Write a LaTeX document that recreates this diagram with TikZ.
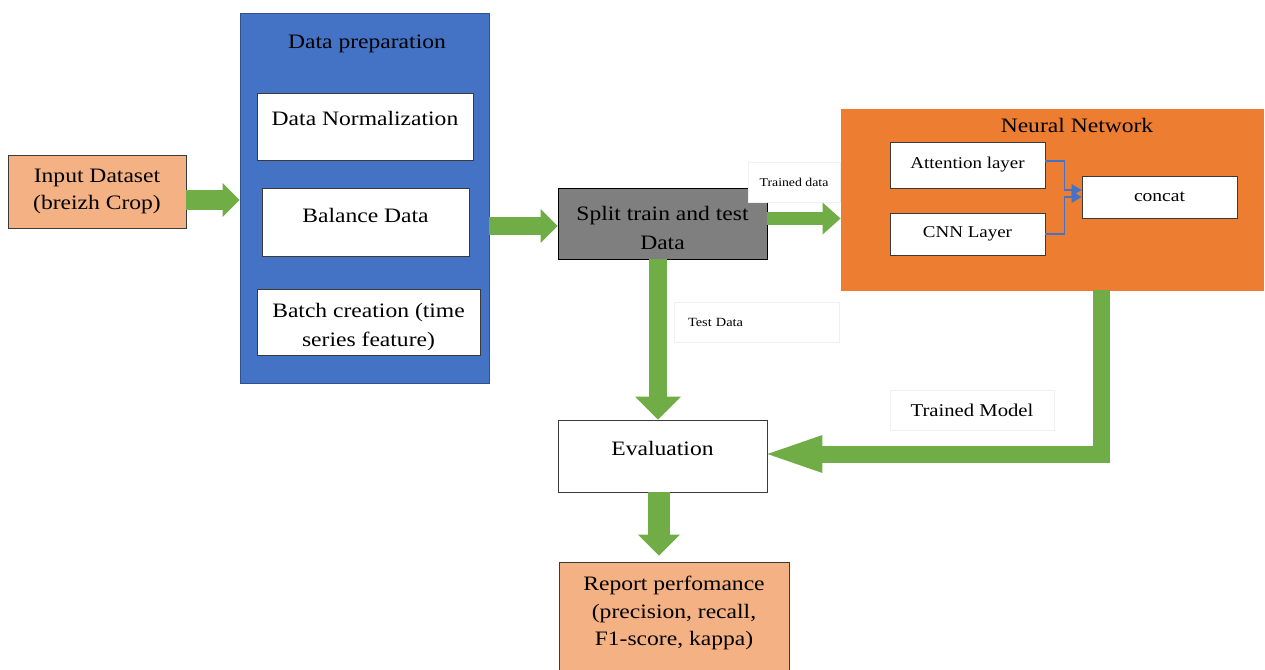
\documentclass[tikz,border=0pt]{standalone}
\usepackage{fontspec}
\setmainfont[FakeStretch=1.15]{Liberation Serif}
\usetikzlibrary{arrows.meta,calc}
\definecolor{inorange}{HTML}{F4B183}
\definecolor{prepblue}{HTML}{4472C4}
\definecolor{prepedge}{HTML}{2F528F}
\definecolor{nnorange}{HTML}{ED7D31}
\definecolor{splitgray}{HTML}{7F7F7F}
\definecolor{agreen}{HTML}{70AD47}
\definecolor{edgegray}{HTML}{3A3A3A}
\begin{document}
\begin{tikzpicture}[x=1pt,y=-1pt,
  box/.style={draw=edgegray, line width=0.9pt, fill=white, inner sep=0pt, align=center},
  big/.style={font=\fontsize{20.5}{27}\selectfont},
  lbl/.style={draw=black!6, fill=white, inner sep=0pt},
  garrow/.style n args={3}{draw=agreen, line width=#1, line join=miter, -{Triangle[width=#2, length=#3, line width=0pt]}},
  bconn/.style={draw=prepblue, line width=1.8pt, -{Triangle[length=10pt,width=12pt,line width=0pt]}}
]
\useasboundingbox (0,0) rectangle (1265,669);

% input
\node[box, fill=inorange, minimum width=178pt, minimum height=73pt, big] (in) at (97,191.5) {Input Dataset\\(breizh Crop)};

% data preparation
\node[box, draw=prepedge, fill=prepblue, minimum width=249pt, minimum height=370pt] (prep) at (364.5,198) {};
\node[big] (preptitle) at (367,44) {Data preparation};
\node[box, minimum width=216pt, minimum height=67pt, label={[big, yshift=8pt]center:{Data Normalization}}] (norm) at (365,126.5) {};
\node[box, minimum width=207pt, minimum height=68pt, label={[big, yshift=7pt]center:{Balance Data}}] (bal) at (365.5,222) {};
\node[box, minimum width=223pt, minimum height=66pt, label={[font=\fontsize{20.5}{29}\selectfont, align=center, yshift=-5.5pt]center:{Batch creation (time\\series feature)}}] (batch) at (368.5,322) {};

% split
\node[box, draw=black, fill=splitgray, minimum width=209pt, minimum height=71pt, label={[font=\fontsize{20.5}{29}\selectfont, align=center, yshift=-4pt]center:{Split train and test\\Data}}] (split) at (662.5,223.5) {};

% neural network
\node[box, draw=nnorange, fill=nnorange, minimum width=422pt, minimum height=181pt] (nn) at (1052,199.5) {};
\node[font=\fontsize{20.5}{25}\selectfont] (nntitle) at (1077,125) {Neural Network};
\node[box, minimum width=155pt, minimum height=46pt, font=\fontsize{16.5}{20}\selectfont] (att) at (967.5,165) {Attention layer};
\node[box, minimum width=155pt, minimum height=42pt, font=\fontsize{16.5}{20}\selectfont] (cnn) at (967.5,234) {CNN Layer};
\node[box, minimum width=155pt, minimum height=42pt, font=\fontsize{17}{20}\selectfont] (concat) at (1159.5,197) {concat};

% evaluation and report
\node[box, minimum width=209pt, minimum height=72pt, label={[big, yshift=8pt]center:{Evaluation}}] (eval) at (662.5,456) {};
\node[box, fill=inorange, minimum width=230pt, minimum height=114pt, label={[font=\fontsize{20.5}{27.5}\selectfont, align=center, yshift=6pt]center:{Report perfomance\\(precision, recall,\\F1-score, kappa)}}] (report) at (674,619) {};

% connector labels
\node[lbl, minimum width=92pt, minimum height=40pt, font=\fontsize{12}{14}\selectfont] (tdata) at (794,182) {Trained data};
\node[lbl, minimum width=165pt, minimum height=40pt, text width=137pt, align=left, font=\fontsize{12.5}{14}\selectfont] (testl) at (756.5,322) {Test Data};
\node[lbl, minimum width=164pt, minimum height=40pt, font=\fontsize{18}{20}\selectfont] (tmodel) at (972,410) {Trained Model};

% green arrows
\draw[garrow={20pt}{34pt}{17pt}] ($(in.east)+(0,8.5)$) -- ($(prep.west)+(0,2)$);
\draw[garrow={18pt}{34pt}{17pt}] ($(prep.east)+(0,28)$) -- ($(split.west)+(0,2.5)$);
\draw[garrow={13pt}{32pt}{18pt}] ($(split.east)+(0,-5)$) -- ($(nn.west)+(0,19)$);
\draw[garrow={18pt}{46pt}{23pt}] ($(split.south)+(-4.5,0)$) -- ($(eval.north)+(-4.5,0)$);
\draw[garrow={17pt}{38pt}{55pt}] ($(nn.south)+(49,0)$) |- ($(eval.east)+(0,-2)$);
\draw[garrow={22pt}{42pt}{21pt}] ($(eval.south)+(-3.5,0)$) -- ($(report.north)+(-15,-6)$);

% blue connectors
\draw[bconn] ($(att.east)+(0,-4)$) -- ++(19,0) |- ($(concat.west)+(0,-7)$);
\draw[bconn] (cnn.east) -- ++(19,0) |- (concat.west);
\end{tikzpicture}
\end{document}
